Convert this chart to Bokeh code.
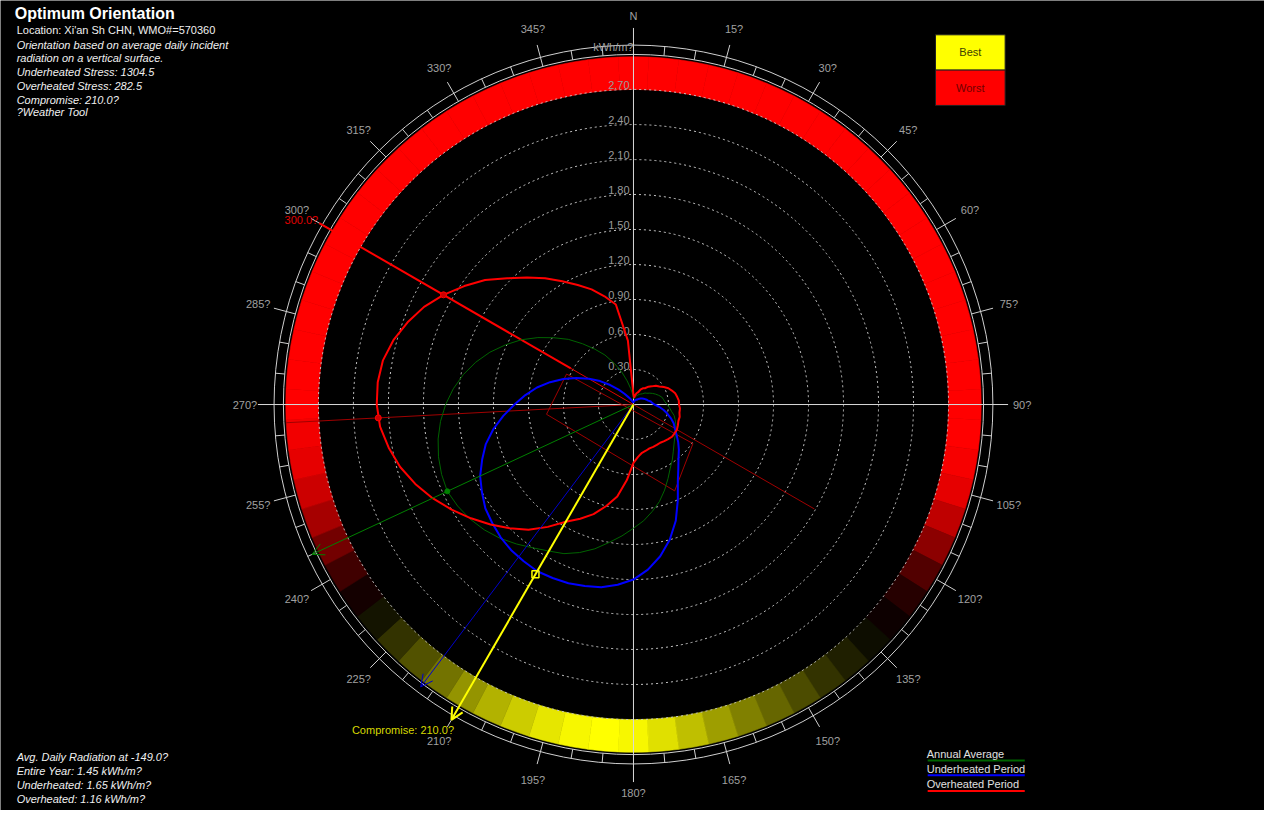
import numpy as np
from bokeh.plotting import figure
from bokeh.models import Range1d, Label, Arrow, OpenHead, ColumnDataSource
from bokeh.core.properties import value
from bokeh.embed import file_html
from bokeh.resources import INLINE

# ---------------- data ----------------
bearings = list(range(0, 360, 5))

band_score = [
    -1.0, -1.0, -1.0, -1.0, -1.0, -1.0, -1.0, -1.0, -1.0, -1.0, -1.0, -1.0,   # 0-55
    -1.0, -1.0, -1.0, -1.0, -1.0, -1.0, -1.0, -1.0, -0.97, -0.9, -0.75, -0.55,  # 60-115
    -0.32, -0.15, -0.05, 0.05, 0.12, 0.2, 0.3, 0.4, 0.5, 0.62, 0.75, 0.88,      # 120-175
    0.97, 1.0, 0.97, 0.9, 0.8, 0.7, 0.58, 0.45, 0.32, 0.2, 0.08, -0.08,         # 180-235
    -0.25, -0.45, -0.65, -0.8, -0.9, -0.95, -1.0, -1.0, -1.0, -1.0, -1.0, -1.0, # 240-295
    -1.0, -1.0, -1.0, -1.0, -1.0, -1.0, -1.0, -1.0, -1.0, -1.0, -1.0, -1.0,     # 300-355
]

overheated_r = [
    0.08, 0.06, 0.08, 0.10, 0.11, 0.14, 0.16, 0.17, 0.20, 0.22, 0.25, 0.27,
    0.30, 0.33, 0.35, 0.37, 0.38, 0.39, 0.39, 0.40, 0.40, 0.41, 0.41, 0.42,
    0.43, 0.43, 0.43, 0.42, 0.41, 0.40, 0.40, 0.40, 0.40, 0.41, 0.42, 0.45,
    0.50, 0.65, 0.80, 0.90, 1.00, 1.08, 1.16, 1.28, 1.40, 1.50, 1.60, 1.70,
    1.80, 1.90, 1.99, 2.07, 2.13, 2.18, 2.20, 2.20, 2.18, 2.13, 2.06, 1.98,
    1.88, 1.77, 1.66, 1.53, 1.42, 1.32, 1.22, 1.13, 1.05, 0.96, 0.87, 0.55,
]

annual_r = [
    0.06, 0.05, 0.06, 0.07, 0.08, 0.09, 0.10, 0.11, 0.12, 0.14, 0.15, 0.17,
    0.19, 0.21, 0.23, 0.25, 0.26, 0.27, 0.29, 0.31, 0.33, 0.36, 0.38, 0.40,
    0.42, 0.44, 0.46, 0.49, 0.53, 0.58, 0.63, 0.70, 0.78, 0.86, 0.93, 1.00,
    1.06, 1.13, 1.20, 1.28, 1.35, 1.41, 1.45, 1.50, 1.56, 1.62, 1.67, 1.71,
    1.74, 1.76, 1.75, 1.73, 1.70, 1.66, 1.61, 1.55, 1.48, 1.40, 1.31, 1.21,
    1.11, 1.00, 0.89, 0.79, 0.68, 0.58, 0.49, 0.39, 0.30, 0.21, 0.14, 0.09,
]

underheated_r = [
    0.02, 0.02, 0.03, 0.03, 0.04, 0.04, 0.05, 0.05, 0.06, 0.07, 0.08, 0.09,
    0.10, 0.11, 0.12, 0.13, 0.15, 0.16, 0.18, 0.22, 0.26, 0.30, 0.34, 0.38,
    0.41, 0.45, 0.50, 0.55, 0.60, 0.67, 0.76, 0.90, 1.06, 1.20, 1.32, 1.42,
    1.50, 1.55, 1.59, 1.61, 1.63, 1.64, 1.65, 1.64, 1.63, 1.61, 1.58, 1.55,
    1.50, 1.45, 1.38, 1.31, 1.22, 1.12, 1.02, 0.93, 0.84, 0.74, 0.64, 0.54,
    0.44, 0.35, 0.26, 0.18, 0.12, 0.08, 0.06, 0.04, 0.03, 0.02, 0.02, 0.02,
]

grid_levels = [0.30, 0.60, 0.90, 1.20, 1.50, 1.80, 2.10, 2.40, 2.70]
grid_labels = ["0.30", "0.60", "0.90", "1.20", "1.50", "1.80", "2.10", "2.40", "2.70"]

compass_bearings = list(range(0, 360, 15))
compass_labels = ["N", "15?", "30?", "45?", "60?", "75?", "90?", "105?", "120?", "135?",
                  "150?", "165?", "180?", "195?", "210?", "225?", "240?", "255?",
                  "270?", "285?", "300?", "315?", "330?", "345?"]

compromise_bearing = 210.0
compromise_r = 1.68
annual_best_bearing = 245.0
annual_best_r = 1.76
underheated_bearing = 217.0
overheated_bearing = 300.0
overheated_mark_bearings = [300.0, 267.0]
overheated_mark_r = [1.88, 2.19]
overheated_alt_bearing = 267.0
stress_box_bearings = [294.5, 263.6, 154.5, 123.3]
stress_box_r = [0.63, 0.75, 0.82, 0.61]

title_text = "Optimum Orientation"
info_lines = ["Location: Xi'an Sh CHN, WMO#=570360",
              "Orientation based on average daily incident",
              "radiation on a vertical surface.",
              "Underheated Stress: 1304.5",
              "Overheated Stress: 282.5",
              "Compromise: 210.0?",
              "?Weather Tool"]
summary_lines = ["Avg. Daily Radiation at -149.0?",
                 "Entire Year: 1.45 kWh/m?",
                 "Underheated: 1.65 kWh/m?",
                 "Overheated: 1.16 kWh/m?"]
legend_names = ["Annual Average", "Underheated Period", "Overheated Period"]
legend_colors = ["#006400", "#0000ff", "#ff0000"]

# ---------------- helpers ----------------
S = 119.0          # reference pixels per kWh/m2
CX, CY = 641, 412  # chart centre in reference pixels
FONT = "Liberation Sans"
W, H = 1264, 810
K = H / 826.0                      # uniform fit of the 1280x826 layout
XOFF = (W - 1280 * K) / 2.0


def polar(b, r):
    b = np.radians(np.asarray(b, dtype=float))
    r = np.asarray(r, dtype=float)
    return r * np.sin(b), r * np.cos(b)


def pg(px, py):
    return (px - CX) / S, (CY - py) / S


def score_color(s):
    if s < 0:
        v = int(round(255 * min(1.0, -s)))
        return "#%02x0000" % v
    v = int(round(255 * min(1.0, s)))
    return "#%02x%02x00" % (v, v)


ref_left = -XOFF / K
ref_right = (W - XOFF) / K
p = figure(width=W, height=H,
           x_range=Range1d((ref_left - CX) / S, (ref_right - CX) / S),
           y_range=Range1d((CY - 826) / S, CY / S),
           x_axis_type=None, y_axis_type=None,
           output_backend="svg", toolbar_location=None,
           min_border=0, background_fill_color="black",
           border_fill_color="black", outline_line_color=None)

# ---- colour band ----
b_arr = np.array(bearings, dtype=float)
band_src = ColumnDataSource(dict(
    x=[0.0] * len(bearings), y=[0.0] * len(bearings),
    start=np.radians(90 - b_arr - 2.5), end=np.radians(90 - b_arr + 2.5),
    color=[score_color(s) for s in band_score]))
p.annular_wedge(x="x", y="y", inner_radius=2.70, outer_radius=2.98,
                start_angle="start", end_angle="end", direction="anticlock",
                fill_color="color", line_color="color", line_width=0.6, source=band_src)

# ---- grid circles ----
p.circle(x=[0.0] * len(grid_levels), y=[0.0] * len(grid_levels), radius=grid_levels,
         fill_color=None, line_color="#c8c8c8", line_dash="2 3", line_width=1)
p.text(x=[-4 / S] * len(grid_levels), y=grid_levels, text=grid_labels,
       text_align="right", text_baseline="bottom", text_font=value(FONT),
       text_font_size="11px", text_color="#9a9a9a")

# ---- compass rings and ticks ----
p.circle(x=[0.0, 0.0], y=[0.0, 0.0], radius=[3.0, 3.08],
         fill_color=None, line_color="#d0d0d0", line_width=1)
p.segment(x0=[0.0, -383 / S], y0=[-385 / S, 0.0], x1=[0.0, 382 / S], y1=[384 / S, 0.0],
          line_color="#d8d8d8", line_width=1)
major = [b for b in compass_bearings if b % 90 != 0]
mx0, my0 = polar(major, [3.0] * len(major))
mx1, my1 = polar(major, [3.19] * len(major))
p.segment(x0=mx0, y0=my0, x1=mx1, y1=my1, line_color="#d0d0d0", line_width=1)
minor = [b for b in bearings if b % 15 != 0]
nx0, ny0 = polar(minor, [3.0] * len(minor))
nx1, ny1 = polar(minor, [3.08] * len(minor))
p.segment(x0=nx0, y0=ny0, x1=nx1, y1=ny1, line_color="#d0d0d0", line_width=1)
lx, ly = polar(compass_bearings, [3.33] * len(compass_bearings))
p.text(x=lx, y=ly, text=compass_labels, text_align="center", text_baseline="middle",
       text_font=value(FONT), text_font_size="11px", text_color="#a0a0a0")
kx, ky = pg(641, 47)
p.add_layout(Label(x=kx, y=ky, text="kWh/m?", text_align="right", text_baseline="middle",
                   text_font=FONT, text_font_size="11px", text_color="#a0a0a0"))

# ---- stress box and lines ----
sx, sy = polar(stress_box_bearings, stress_box_r)
p.patch(x=list(sx), y=list(sy), fill_color=None, line_color="#a00000", line_width=1)

ax, ay = polar([overheated_alt_bearing], [2.98])
p.segment(x0=[0.0], y0=[0.0], x1=ax, y1=ay, line_color="#a00000", line_width=1)
ex, ey = polar([overheated_bearing - 180], [1.79])
p.segment(x0=[0.0], y0=[0.0], x1=ex, y1=ey, line_color="#a00000", line_width=1)
ix, iy = polar([overheated_bearing], [0.62])
ox, oy = polar([overheated_bearing], [3.11])
p.segment(x0=[0.0], y0=[0.0], x1=ix, y1=iy, line_color="#e00000", line_width=1)
p.segment(x0=ix, y0=iy, x1=ox, y1=oy, line_color="#ff0000", line_width=2)

# ---- curves ----
for vals, col, lw in [(annual_r, "#006400", 1), (underheated_r, "#0000ff", 2),
                      (overheated_r, "#ff0000", 2)]:
    cx_, cy_ = polar(bearings + [bearings[0]], vals + [vals[0]])
    p.line(x=cx_, y=cy_, line_color=col, line_width=lw)

# ---- direction arrows ----
for brg, length, col, lw in [(annual_best_bearing, 3.04, "#008000", 1),
                             (underheated_bearing, 3.03, "#0000cc", 1),
                             (compromise_bearing, 3.12, "#ffff00", 2)]:
    tx, ty = polar([brg], [length])
    p.add_layout(Arrow(end=OpenHead(size=12, line_color=col, line_width=lw),
                       x_start=0.0, y_start=0.0, x_end=float(tx[0]), y_end=float(ty[0]),
                       line_color=col, line_width=lw))

# ---- markers ----
gx, gy = polar([annual_best_bearing], [annual_best_r])
p.scatter(x=gx, y=gy, size=5, marker="circle", fill_color="#008000", line_color="#008000")
rx, ry = polar(overheated_mark_bearings, overheated_mark_r)
p.scatter(x=rx, y=ry, size=6, marker="circle", fill_color="#cc0000", line_color="#ff0000")
yx, yy = polar([compromise_bearing], [compromise_r])
p.scatter(x=yx, y=yy, size=7, marker="square", fill_color=None, line_color="#ffff00", line_width=1.5)

# ---- angle annotations ----
tx, ty = polar([overheated_bearing], [3.12])
p.add_layout(Label(x=float(tx[0]), y=float(ty[0]) + 3 / S, text="300.0?", text_align="right",
                   text_baseline="middle", text_font=FONT, text_font_size="11px",
                   text_color="#e00000"))
cxl, cyl = pg(458, 744)
p.add_layout(Label(x=cxl, y=cyl, text="Compromise: 210.0?", text_align="right",
                   text_baseline="middle", text_font=FONT, text_font_size="11px",
                   text_color="#d8d800"))

# ---- title and info text ----
tx0, ty0 = pg(10, 13)
p.add_layout(Label(x=tx0, y=ty0, text=title_text, text_baseline="middle",
                   text_font=FONT, text_font_size="16px", text_font_style="bold",
                   text_color="#ffffff"))
info_y = [30, 45, 59, 73, 87, 101, 114]
for i, (line, py) in enumerate(zip(info_lines, info_y)):
    x_, y_ = pg(12, py)
    p.add_layout(Label(x=x_, y=y_, text=line, text_baseline="middle", text_font=FONT,
                       text_font_size="11px", text_color="#f0f0f0",
                       text_font_style="normal" if i == 0 else "italic"))

sum_y = [771, 786, 800, 814]
for line, py in zip(summary_lines, sum_y):
    x_, y_ = pg(12, py)
    p.add_layout(Label(x=x_, y=y_, text=line, text_baseline="middle", text_font=FONT,
                       text_font_size="11px", text_color="#f0f0f0", text_font_style="italic"))

# ---- Best / Worst key ----
bl, bt = pg(949, 35)
br, bm = pg(1020, 71)
_, bb = pg(1020, 107)
p.quad(left=[bl, bl], right=[br, br], top=[bt, bm], bottom=[bm, bb],
       fill_color=[score_color(1.0), score_color(-1.0)], line_color="#202020", line_width=1)
p.add_layout(Label(x=(bl + br) / 2, y=(bt + bm) / 2, text="Best", text_align="center",
                   text_baseline="middle", text_font=FONT, text_font_size="11px",
                   text_color="#404000"))
p.add_layout(Label(x=(bl + br) / 2, y=(bm + bb) / 2, text="Worst", text_align="center",
                   text_baseline="middle", text_font=FONT, text_font_size="11px",
                   text_color="#700000"))

# ---- period legend ----
leg_text_y = [768, 784, 799]
leg_line_y = [775, 790, 806]
for name, col, ty_, ly_ in zip(legend_names, legend_colors, leg_text_y, leg_line_y):
    x_, y_ = pg(940, ty_)
    p.add_layout(Label(x=x_, y=y_, text=name, text_baseline="middle", text_font=FONT,
                       text_font_size="11px", text_color="#e0e0e0"))
    lx0, lyy = pg(941, ly_)
    lx1, _ = pg(1040, ly_)
    p.segment(x0=[lx0], y0=[lyy], x1=[lx1], y1=[lyy], line_color=col, line_width=2)

open("out.html", "w").write(file_html(p, INLINE))
